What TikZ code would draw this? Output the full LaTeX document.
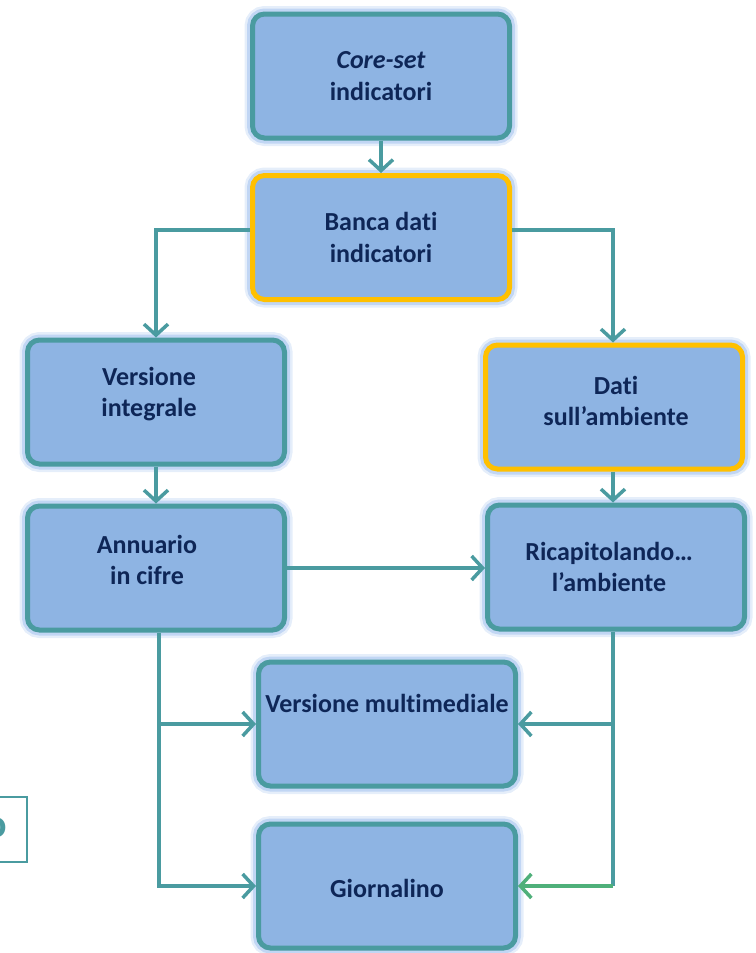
\documentclass[tikz,border=0pt]{standalone}
\usepackage{fontspec}
\setmainfont{Carlito}[Ligatures={NoCommon}]
\usetikzlibrary{arrows.meta}
\definecolor{boxfill}{HTML}{8EB4E3}
\definecolor{boxteal}{HTML}{4A9BA0}
\definecolor{boxgold}{HTML}{FFC000}
\definecolor{boxglow}{HTML}{A9C6F0}
\definecolor{textnavy}{HTML}{0E2657}
\definecolor{linkgreen}{HTML}{4FB07A}
\tikzset{
  box/.style={draw=boxteal, line width=5pt, fill=boxfill, rounded corners=12pt,
    minimum width=257pt, minimum height=124pt,
    preaction={draw=boxglow, line width=16pt, opacity=0.3},
    preaction={draw=boxglow, line width=11pt, opacity=0.6}},
  goldbox/.style={box, draw=boxgold},
  boxtext/.style={text=textnavy, font=\fontsize{26}{31.5}\selectfont\bfseries, align=center},
  link/.style={draw=boxteal, line width=3.5pt, -{Straight Barb[length=11pt,width=24pt,line width=3.5pt]}},
}
\begin{document}
\begin{tikzpicture}[x=1pt, y=-1pt]
  \useasboundingbox (0,0) rectangle (755,953);
  % boxes
  \node[box] (core) at (381,76) {};
  \node[goldbox] (banca) at (381,237.5) {};
  \node[box] (integ) at (156,402) {};
  \node[goldbox] (dati) at (614,407) {};
  \node[box] (annu) at (156,568) {};
  \node[box] (ricap) at (616,567) {};
  \node[box] (multi) at (387,724) {};
  \node[box] (giorn) at (387,886) {};
  % texts
  \node[boxtext] at (core.center) {\itshape Core-set\\indicatori};
  \node[boxtext] at (banca.center) {Banca dati\\indicatori};
  \node[boxtext] at ([xshift=-7pt,yshift=8pt]integ.center) {Versione\\integrale};
  \node[boxtext] at ([xshift=2pt,yshift=6pt]dati.center) {Dati\\sull’ambiente};
  \node[boxtext] at ([xshift=-9pt,yshift=8pt]annu.center) {Annuario\\in cifre};
  \node[boxtext] at ([xshift=-7pt]ricap.center) {Ricapitolando…\\l’ambiente};
  \node[boxtext] at ([yshift=21pt]multi.center) {Versione multimediale};
  \node[boxtext] at ([yshift=-2pt]giorn.center) {Giornalino};
  % connectors
  \coordinate (trunkL) at ([xshift=3pt]annu.south);
  \coordinate (trunkR) at ([xshift=-3pt]ricap.south);
  \draw[link] (core.south) -- (banca.north);
  \draw[link] ([yshift=7.5pt]banca.west) -| (integ.north);
  \draw[link] ([yshift=7.5pt]banca.east) -| ([xshift=-1pt]dati.north);
  \draw[link] (integ.south) -- (annu.north);
  \draw[link] ([xshift=-1pt]dati.south) -- ([xshift=-3pt]ricap.north);
  \draw[link] (annu.east) -- (annu.east -| ricap.west);
  \draw[link] (trunkL) |- (giorn.west);
  \draw[link] (trunkL |- multi.west) -- (multi.west);
  \draw[boxteal, line width=3.5pt] (trunkR) -- (trunkR |- giorn.east);
  \draw[link] (trunkR |- multi.east) -- (multi.east);
  \draw[link, draw=linkgreen] (trunkR |- giorn.east) -- (giorn.east);
  % cut-off box at the left edge
  \draw[boxteal, line width=1.2pt] (-10,797) rectangle (27,862);
  \node[text=boxteal, font=\fontsize{40}{40}\selectfont\bfseries] (cut) at (-4,828) {o};
\end{tikzpicture}
\end{document}
